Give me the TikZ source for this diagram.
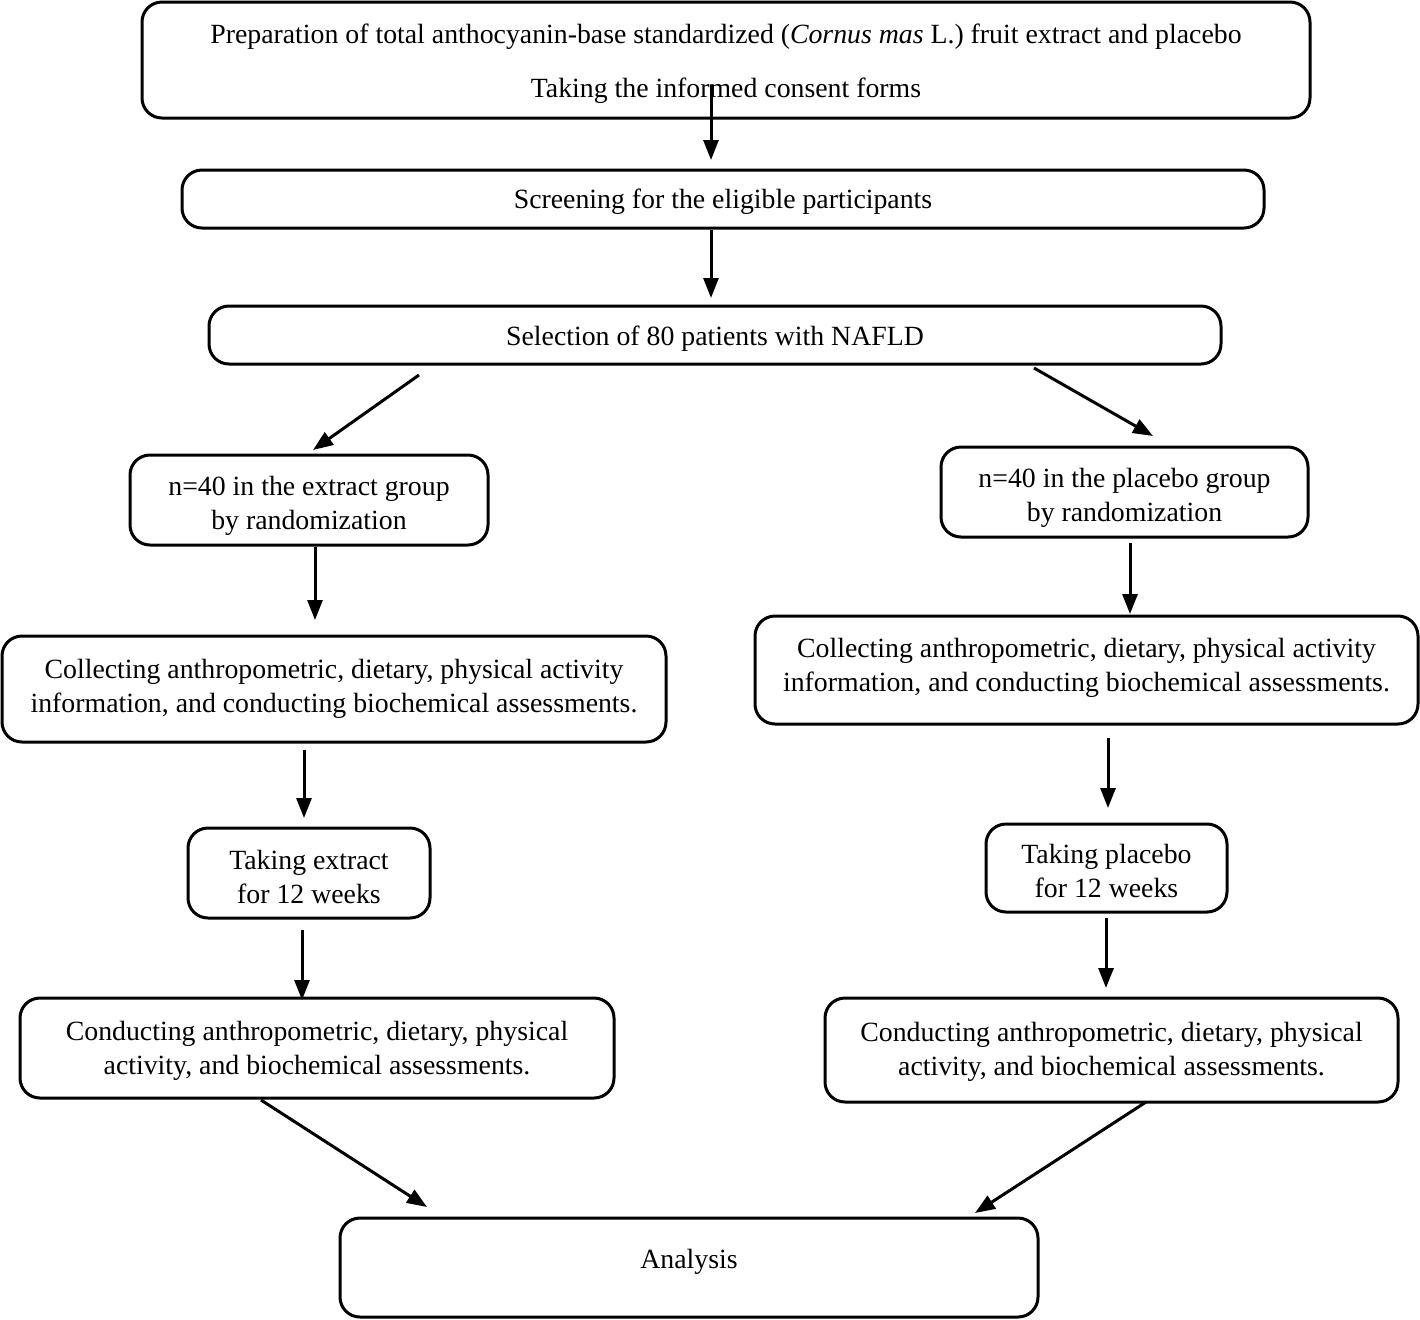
\documentclass[tikz,border=0pt]{standalone}
\usepackage{fontspec}
\setmainfont{Liberation Serif}
\usetikzlibrary{arrows.meta}
\begin{document}
\begin{tikzpicture}[x=0.5pt,y=-0.5pt,>={Triangle[length=10pt,width=7.5pt]},line join=round,
	font=\fontsize{13.9}{17}\selectfont,
	box/.style={draw,line width=1.5pt,rounded corners=10pt,align=center,inner sep=0pt},
	lower/.style={text height=#1},
	lift/.style={text depth=#1},
	arr/.style={->,line width=1.5pt}]
	\useasboundingbox (0,0) rectangle (1420,1319);
	% boxes
	\node[box,lower=40.5pt,minimum width=584pt,minimum height=58pt] (top) at (726,60) {Preparation of total anthocyanin-base standardized (\textit{Cornus mas} L.) fruit extract and placebo\\[10pt]Taking the informed consent forms};
	\node[box,lower=12pt,minimum width=541pt,minimum height=29pt] (screen) at (723,199) {Screening for the eligible participants};
	\node[box,lower=13.5pt,minimum width=506pt,minimum height=29pt] (select) at (715,335) {Selection of 80 patients with NAFLD};
	\node[box,lower=32.5pt,minimum width=179pt,minimum height=45pt] (extgrp) at (309,500) {n=40 in the extract group\\by randomization};
	\node[box,lower=32.5pt,minimum width=183.5pt,minimum height=45pt] (plcgrp) at (1124.5,492) {n=40 in the placebo group\\by randomization};
	\node[box,minimum width=332pt,minimum height=53pt] (colext) at (334,689) {Collecting anthropometric, dietary, physical activity\\information, and conducting biochemical assessments.};
	\node[box,lift=5pt,minimum width=331.5pt,minimum height=54pt] (colplc) at (1086.5,670) {Collecting anthropometric, dietary, physical activity\\information, and conducting biochemical assessments.};
	\node[box,lower=30.5pt,minimum width=121pt,minimum height=45pt] (takext) at (309,873) {Taking extract\\for 12 weeks};
	\node[box,lower=29.5pt,minimum width=120.5pt,minimum height=44pt] (takplc) at (1106.5,868) {Taking placebo\\for 12 weeks};
	\node[box,lower=29.5pt,minimum width=297pt,minimum height=50pt] (condext) at (317,1048) {Conducting anthropometric, dietary, physical\\activity, and biochemical assessments.};
	\node[box,lower=28pt,minimum width=286.5pt,minimum height=52pt] (condplc) at (1111.5,1050) {Conducting anthropometric, dietary, physical\\activity, and biochemical assessments.};
	\node[box,lift=9pt,minimum width=349pt,minimum height=49.5pt] (analysis) at (689,1267.5) {Analysis};
	% arrow ends
	\coordinate (a1) at (711,85);   \coordinate (b1) at (711,160);
	\coordinate (a2) at (711,230);  \coordinate (b2) at (711,298);
	\coordinate (a3) at (419,375);  \coordinate (b3) at (313,450);
	\coordinate (a4) at (1034,368); \coordinate (b4) at (1153,436);
	\coordinate (a5) at (315,547);  \coordinate (b5) at (315,620);
	\coordinate (a6) at (1130,543); \coordinate (b6) at (1130,614);
	\coordinate (a7) at (304,750);  \coordinate (b7) at (304,818);
	\coordinate (a8) at (1108,738); \coordinate (b8) at (1108,808);
	\coordinate (a9) at (302,930);  \coordinate (b9) at (302,1000);
	\coordinate (a10) at (1106,918); \coordinate (b10) at (1106,988);
	\coordinate (a11) at (261,1100); \coordinate (b11) at (427,1207);
	\coordinate (a12) at (1146,1102); \coordinate (b12) at (975,1213);
	\foreach \i in {1,...,12}
		\draw[arr] (a\i)--(b\i);
\end{tikzpicture}
\end{document}
